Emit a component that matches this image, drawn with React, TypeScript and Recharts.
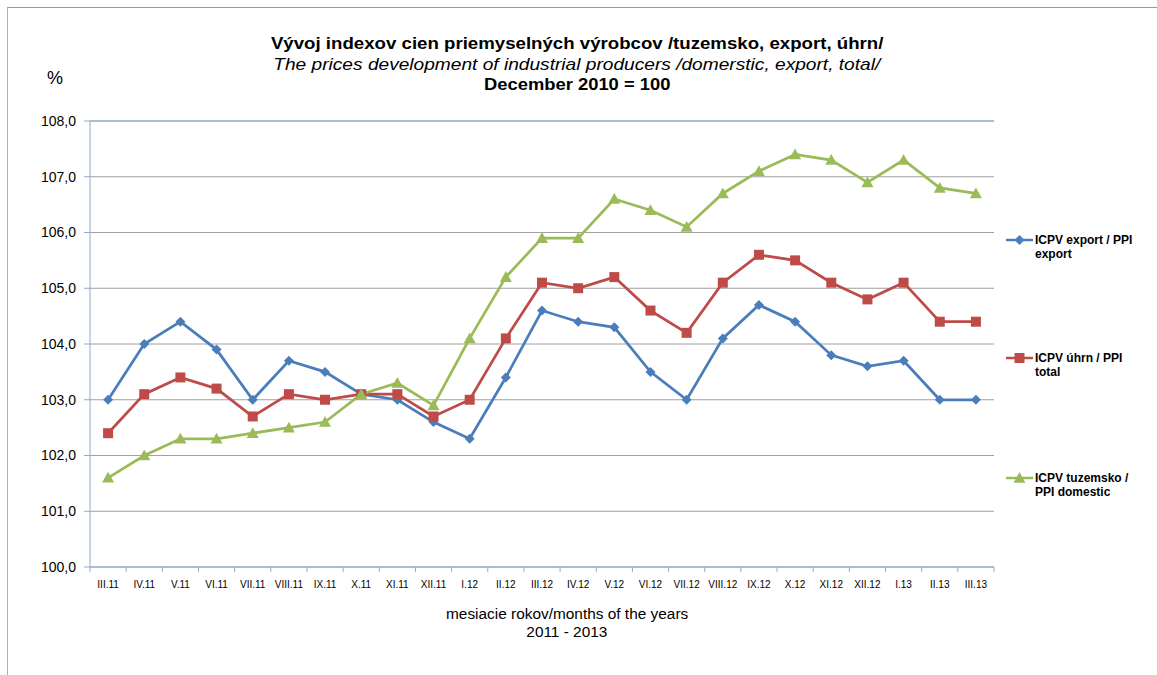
import { LineChart, Line, XAxis, YAxis, CartesianGrid, ReferenceLine } from "recharts";

const MONTHS = [
  "III.11", "IV.11", "V.11", "VI.11", "VII.11", "VIII.11", "IX.11", "X.11", "XI.11", "XII.11",
  "I.12", "II.12", "III.12", "IV.12", "V.12", "VI.12", "VII.12", "VIII.12", "IX.12", "X.12",
  "XI.12", "XII.12", "I.13", "II.13", "III.13",
];
const EXPORT = [
  103.0, 104.0, 104.4, 103.9, 103.0, 103.7, 103.5, 103.1, 103.0, 102.6,
  102.3, 103.4, 104.6, 104.4, 104.3, 103.5, 103.0, 104.1, 104.7, 104.4,
  103.8, 103.6, 103.7, 103.0, 103.0,
];
const TOTAL = [
  102.4, 103.1, 103.4, 103.2, 102.7, 103.1, 103.0, 103.1, 103.1, 102.7,
  103.0, 104.1, 105.1, 105.0, 105.2, 104.6, 104.2, 105.1, 105.6, 105.5,
  105.1, 104.8, 105.1, 104.4, 104.4,
];
const DOMESTIC = [
  101.6, 102.0, 102.3, 102.3, 102.4, 102.5, 102.6, 103.1, 103.3, 102.9,
  104.1, 105.2, 105.9, 105.9, 106.6, 106.4, 106.1, 106.7, 107.1, 107.4,
  107.3, 106.9, 107.3, 106.8, 106.7,
];
const Y_TICKS = [100, 101, 102, 103, 104, 105, 106, 107, 108];

const data = MONTHS.map((m, i) => ({
  month: m,
  exp: EXPORT[i],
  tot: TOTAL[i],
  dom: DOMESTIC[i],
}));

const FONT = "'Liberation Sans', Arial, sans-serif";
const BLUE = "#4A7EBB";
const RED = "#BE4B48";
const GREEN = "#9BBB59";
const AXIS = "#8EA9CB";

const W = 1157;
const H = 675;
const PLOT_LEFT = 90;
const PLOT_RIGHT = 994;
const PLOT_TOP = 121;
const PLOT_BOTTOM = 567;
const Y_AXIS_W = 70;
const X_AXIS_H = 30;
const BAND = (PLOT_RIGHT - PLOT_LEFT) / MONTHS.length;

const fmt = (v) => v.toFixed(1).replace(".", ",");

function Diamond({ cx, cy, fill }) {
  if (cx == null || cy == null) return null;
  const r = 5;
  return <path d={`M${cx},${cy - r}L${cx + r},${cy}L${cx},${cy + r}L${cx - r},${cy}Z`} fill={fill} />;
}

function Square({ cx, cy, fill }) {
  if (cx == null || cy == null) return null;
  const r = 5;
  return <rect x={cx - r} y={cy - r} width={r * 2} height={r * 2} fill={fill} />;
}

function Triangle({ cx, cy, fill }) {
  if (cx == null || cy == null) return null;
  const r = 6;
  return <path d={`M${cx},${cy - r}L${cx + r},${cy + r * 0.8}L${cx - r},${cy + r * 0.8}Z`} fill={fill} />;
}

function MonthTick({ x, payload, index }) {
  const last = index === MONTHS.length - 1;
  return (
    <g>
      <line x1={x - BAND / 2} x2={x - BAND / 2} y1={PLOT_BOTTOM} y2={PLOT_BOTTOM + 5} stroke={AXIS} />
      {last && (
        <line x1={x + BAND / 2} x2={x + BAND / 2} y1={PLOT_BOTTOM} y2={PLOT_BOTTOM + 5} stroke={AXIS} />
      )}
      <text x={x} y={PLOT_BOTTOM + 21} textAnchor="middle" fontSize={10} fontFamily={FONT} fill="#000">
        {payload.value}
      </text>
    </g>
  );
}

const LEGEND = [
  { lines: ["ICPV export / PPI", "export"], color: BLUE, shape: "diamond", y: 240 },
  { lines: ["ICPV úhrn / PPI", "total"], color: RED, shape: "square", y: 358 },
  { lines: ["ICPV tuzemsko /", "PPI domestic"], color: GREEN, shape: "triangle", y: 478 },
];

function LegendIcon({ color, shape }) {
  return (
    <svg width={28} height={12} style={{ display: "block", flex: "none" }}>
      <line x1={0} x2={27} y1={6} y2={6} stroke={color} strokeWidth={2.5} />
      {shape === "diamond" && <Diamond cx={13.5} cy={6} fill={color} />}
      {shape === "square" && <Square cx={13.5} cy={6} fill={color} />}
      {shape === "triangle" && <Triangle cx={13.5} cy={6} fill={color} />}
    </svg>
  );
}

const stretch = (s) => ({ display: "inline-block", transform: `scaleX(${s})`, whiteSpace: "nowrap" });

export default function App() {
  return (
    <div
      style={{
        position: "absolute",
        left: 0,
        top: 0,
        width: W,
        height: H,
        overflow: "hidden",
        background: "#fff",
        fontFamily: FONT,
        color: "#000",
      }}
    >
      {/* outer frame */}
      <div
        style={{
          position: "absolute",
          left: 7,
          top: 7,
          width: W,
          height: H,
          borderTop: "1px solid #9A9A9A",
          borderLeft: "1px solid #B0B0B0",
        }}
      />

      {/* title */}
      <div
        style={{
          position: "absolute",
          left: 0,
          top: 34,
          width: 1154,
          textAlign: "center",
          lineHeight: "20.5px",
          fontSize: 17,
        }}
      >
        <div><span style={{ ...stretch(1.097), fontWeight: "bold" }}>Vývoj indexov cien priemyselných výrobcov /tuzemsko, export, úhrn/</span></div>
        <div><span style={{ ...stretch(1.125), fontStyle: "italic" }}>The prices development of industrial producers /domerstic, export, total/</span></div>
        <div><span style={{ ...stretch(1.08), fontWeight: "bold" }}>December 2010 = 100</span></div>
      </div>
      <div style={{ position: "absolute", left: 47, top: 68, fontSize: 18 }}>%</div>

      <div style={{ position: "absolute", left: 0, top: 0 }}>
        <LineChart
          width={W}
          height={H}
          data={data}
          margin={{
            top: PLOT_TOP,
            right: W - PLOT_RIGHT,
            bottom: H - PLOT_BOTTOM - X_AXIS_H,
            left: PLOT_LEFT - Y_AXIS_W,
          }}
        >
          <CartesianGrid vertical={false} stroke="#A0A0A0" strokeWidth={1} />
          <XAxis
            dataKey="month"
            interval={0}
            height={X_AXIS_H}
            padding={{ left: BAND / 2, right: BAND / 2 }}
            axisLine={{ stroke: AXIS }}
            tickLine={false}
            tick={<MonthTick />}
          />
          <YAxis
            domain={[100, 108]}
            ticks={Y_TICKS}
            width={Y_AXIS_W}
            axisLine={{ stroke: AXIS }}
            tickLine={{ stroke: AXIS }}
            tickSize={6}
            tickMargin={8}
            tickFormatter={fmt}
            tick={{ fontSize: 14, fill: "#000", fontFamily: FONT }}
          />
          <YAxis
            yAxisId="right"
            orientation="right"
            domain={[100, 108]}
            width={0}
            axisLine={{ stroke: AXIS }}
            tickLine={false}
            tick={false}
          />
          <ReferenceLine y={108} stroke={AXIS} />
          <Line
            dataKey="exp"
            stroke={BLUE}
            strokeWidth={2.75}
            dot={<Diamond fill={BLUE} />}
            isAnimationActive={false}
          />
          <Line
            dataKey="tot"
            stroke={RED}
            strokeWidth={2.75}
            dot={<Square fill={RED} />}
            isAnimationActive={false}
          />
          <Line
            dataKey="dom"
            stroke={GREEN}
            strokeWidth={2.75}
            dot={<Triangle fill={GREEN} />}
            isAnimationActive={false}
          />
        </LineChart>
      </div>

      {/* x axis title */}
      <div
        style={{
          position: "absolute",
          left: 367,
          top: 605,
          width: 400,
          textAlign: "center",
          fontSize: 14,
          lineHeight: "18px",
        }}
      >
        <div><span style={stretch(1.1)}>mesiacie rokov/months of the years</span></div>
        <div><span style={stretch(1.1)}>2011 - 2013</span></div>
      </div>

      {/* legend */}
      {LEGEND.map((item) => (
        <div
          key={item.lines[0]}
          style={{ position: "absolute", left: 1006, top: item.y - 6, display: "flex", alignItems: "flex-start" }}
        >
          <LegendIcon color={item.color} shape={item.shape} />
          <div style={{ fontSize: 12, fontWeight: "bold", lineHeight: "14px", marginTop: -1, marginLeft: 1, whiteSpace: "nowrap" }}>
            {item.lines.map((l) => (
              <div key={l}>{l}</div>
            ))}
          </div>
        </div>
      ))}
    </div>
  );
}
